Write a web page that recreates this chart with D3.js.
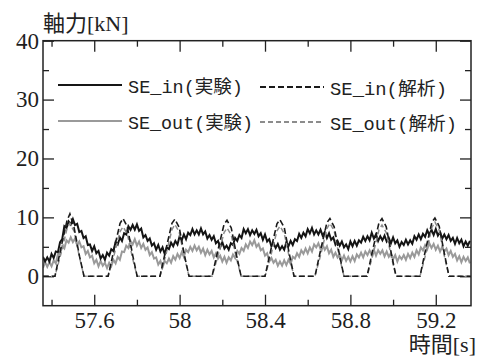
<!DOCTYPE html>
<html>
<head>
<meta charset="utf-8">
<script src="https://cdn.jsdelivr.net/npm/d3@7"></script>
<style>
  body { margin: 0; background: #fff; }
  #chart svg { display: block; }
  .axis line { stroke: #222; stroke-width: 1.3px; }
  .axis path { display: none; }
  .title { font-family: "Liberation Serif", "Noto Sans CJK JP", serif; font-size: 22px; fill: #222; }
  .legend text { font-family: "Liberation Mono", "Noto Sans CJK JP", monospace; font-size: 18.5px; fill: #222; }
</style>
</head>
<body>
<div id="chart"></div>
<script>
// sampled every 0.01 s from timeStart
const timeStart = 57.36;
const timeStep = 0.01;

const seInExp = [
  3.3, 2.5, 3.2, 2.5, 3.8, 3.1, 4.2, 4.1, 5.8, 6.3,
  8.5, 8.2, 9.3, 8.8, 9.7, 8.7, 8.9, 7.5, 7.7, 6.5,
  6.8, 5.3, 5.4, 4.3, 5.1, 3.9, 4.3, 3.0, 3.6, 2.8,
  4.0, 3.5, 4.6, 4.3, 5.8, 5.4, 6.6, 6.0, 7.3, 7.1,
  8.5, 7.9, 8.7, 7.9, 8.8, 7.7, 8.1, 6.6, 7.0, 6.0,
  6.4, 5.2, 5.6, 4.5, 5.3, 4.2, 4.9, 3.8, 4.9, 4.6,
  5.7, 5.1, 6.0, 5.4, 6.8, 6.1, 7.1, 6.3, 7.4, 7.0,
  8.0, 7.1, 7.8, 7.1, 8.1, 7.1, 7.6, 6.4, 7.0, 6.2,
  6.8, 5.6, 6.0, 4.9, 5.8, 4.7, 5.2, 4.5, 5.6, 5.3,
  6.5, 6.0, 7.0, 6.5, 8.0, 7.3, 8.0, 7.0, 7.8, 7.2,
  7.9, 6.8, 7.3, 6.2, 7.1, 5.9, 6.3, 5.1, 5.6, 4.8,
  5.5, 4.5, 5.1, 4.5, 5.8, 5.1, 6.0, 5.3, 6.3, 6.0,
  7.2, 6.5, 7.4, 6.8, 8.0, 7.3, 8.2, 7.1, 7.8, 7.1,
  7.9, 6.9, 7.5, 6.5, 7.3, 6.2, 6.6, 5.4, 6.0, 5.2,
  5.9, 4.9, 5.4, 4.6, 5.9, 5.1, 6.0, 5.2, 6.1, 5.7,
  6.7, 6.0, 6.8, 6.1, 7.4, 6.4, 7.1, 6.0, 6.8, 6.1,
  6.9, 5.9, 6.5, 5.6, 6.6, 5.6, 6.1, 5.0, 5.8, 5.3,
  6.2, 5.4, 6.1, 5.5, 6.8, 6.2, 7.1, 6.3, 7.2, 6.7,
  7.8, 7.0, 7.9, 7.0, 8.0, 6.9, 7.5, 6.4, 7.1, 6.3,
  7.0, 6.0, 6.5, 5.5, 6.5, 5.6, 6.2, 5.1, 5.9, 5.2,
  6.0
];

const seOutExp = [
  1.4, 2.4, 1.6, 2.4, 1.7, 2.7, 2.2, 3.8, 3.8, 5.1,
  4.7, 6.1, 5.7, 6.6, 5.8, 6.4, 5.3, 5.9, 4.9, 5.1,
  3.8, 4.3, 3.2, 3.5, 2.2, 2.8, 1.7, 2.6, 1.8, 2.3,
  1.4, 2.3, 1.7, 2.8, 2.2, 3.3, 2.8, 4.2, 4.1, 5.2,
  4.8, 6.0, 5.4, 6.3, 5.2, 5.9, 4.8, 5.5, 4.5, 4.9,
  3.6, 4.1, 3.0, 3.2, 2.0, 2.6, 1.5, 2.6, 2.2, 3.0,
  2.3, 3.4, 2.8, 3.8, 3.1, 4.1, 3.3, 4.5, 4.1, 5.0,
  4.3, 5.2, 4.4, 5.0, 4.0, 4.7, 3.6, 4.5, 3.7, 4.3,
  3.2, 3.9, 3.0, 3.5, 2.5, 3.3, 2.3, 3.2, 2.7, 3.7,
  3.1, 4.3, 3.8, 4.8, 4.3, 5.4, 4.8, 5.9, 5.3, 6.1,
  5.0, 5.5, 4.4, 4.7, 3.5, 3.9, 2.5, 3.1, 2.3, 2.8,
  1.8, 2.5, 1.8, 2.7, 1.9, 2.8, 2.1, 3.3, 3.0, 3.9,
  3.3, 4.4, 3.8, 4.7, 3.9, 4.9, 4.2, 5.4, 4.9, 5.6,
  4.6, 5.4, 4.5, 5.1, 3.9, 4.5, 3.3, 4.0, 3.2, 3.7,
  2.7, 3.5, 2.6, 3.3, 2.5, 3.4, 2.6, 3.7, 3.2, 4.0,
  3.2, 4.2, 3.6, 4.4, 3.6, 4.5, 3.5, 4.4, 3.8, 4.4,
  3.4, 4.2, 3.3, 3.9, 2.9, 3.6, 2.5, 3.4, 2.9, 3.6,
  2.8, 3.8, 3.1, 4.0, 3.3, 4.4, 3.7, 4.9, 4.4, 5.3,
  4.6, 5.6, 4.8, 5.5, 4.5, 5.2, 4.2, 5.0, 4.2, 4.7,
  3.6, 4.3, 3.3, 3.8, 2.7, 3.4, 2.4, 3.3, 2.6, 3.2,
  2.2
];

// analysis curves, knot times [s]
const anaTime = [
  57.36,
  57.416, 57.444, 57.472, 57.486, 57.506, 57.531, 57.552,
  57.665, 57.693, 57.721, 57.735, 57.755, 57.780, 57.801,
  57.908, 57.936, 57.964, 57.978, 57.998, 58.023, 58.044,
  58.152, 58.180, 58.208, 58.222, 58.242, 58.267, 58.288,
  58.400, 58.428, 58.456, 58.470, 58.490, 58.515, 58.536,
  58.634, 58.662, 58.690, 58.704, 58.724, 58.749, 58.770,
  58.878, 58.906, 58.934, 58.948, 58.968, 58.993, 59.014,
  59.126, 59.154, 59.182, 59.196, 59.216, 59.241, 59.262,
  59.365
];

const seInAna = [
  0,
  0, 4.8, 9.4, 10.6, 8.2, 3.4, 0,
  0, 4.6, 9.0, 9.8, 8.4, 3.6, 0,
  0, 4.6, 9.0, 9.7, 8.3, 3.5, 0,
  0, 4.5, 8.8, 9.5, 8.2, 3.5, 0,
  0, 4.6, 8.9, 9.6, 8.3, 3.6, 0,
  0, 4.7, 9.1, 9.8, 8.4, 3.6, 0,
  0, 4.7, 9.1, 9.8, 8.4, 3.6, 0,
  0, 4.8, 9.2, 9.9, 8.5, 3.7, 0,
  0
];

const seOutAna = [
  0,
  0, 3.8, 8.0, 9.0, 7.6, 3.2, 0,
  0, 3.6, 7.6, 8.4, 7.2, 3.0, 0,
  0, 3.7, 7.9, 8.8, 7.5, 3.1, 0,
  0, 3.5, 7.4, 8.2, 7.0, 2.9, 0,
  0, 3.6, 7.7, 8.5, 7.3, 3.0, 0,
  0, 3.8, 8.1, 9.0, 7.7, 3.2, 0,
  0, 3.7, 7.9, 8.7, 7.4, 3.1, 0,
  0, 3.9, 8.3, 9.2, 7.8, 3.3, 0,
  0
];

const yMajorTicks = [0, 10, 20, 30, 40];
const yMinorTicks = [5, 15, 25, 35];
const xMajorTicks = [57.6, 58, 58.4, 58.8, 59.2];
const xMinorTicks = [57.4, 57.8, 58.2, 58.6, 59.0];
const xTickLabels = ["57.6", "58", "58.4", "58.8", "59.2"];
const legendLabels = ["SE_in(実験)", "SE_in(解析)", "SE_out(実験)", "SE_out(解析)"];

const width = 490, height = 358;
const plotLeft = 43, plotRight = 471, plotTop = 40.7, plotBottom = 305.7;

const svg = d3.select("#chart")
  .append("svg")
  .attr("width", width)
  .attr("height", height);

const x = d3.scaleLinear().domain([57.36, 59.365]).range([plotLeft, plotRight]);
const y = d3.scaleLinear().domain([-5, 40]).range([plotBottom, plotTop]);

svg.append("clipPath").attr("id", "plotClip")
  .append("rect")
  .attr("x", plotLeft).attr("y", plotTop)
  .attr("width", plotRight - plotLeft).attr("height", plotBottom - plotTop);

// ticks, all pointing inward
const major = 11, minor = 6;

function styleLabels(g) {
  g.selectAll("text")
    .style("font-family", "'Liberation Serif', 'Times New Roman', serif")
    .style("font-size", "23px")
    .style("fill", "#1e1e1e");
}

svg.append("g").attr("class", "axis")
  .attr("transform", `translate(${plotLeft},0)`)
  .call(d3.axisLeft(y).tickValues(yMajorTicks).tickSize(-major).tickPadding(4))
  .call(styleLabels);
svg.append("g").attr("class", "axis")
  .attr("transform", `translate(${plotLeft},0)`)
  .call(d3.axisLeft(y).tickValues(yMinorTicks).tickSize(-minor).tickFormat(""));
svg.append("g").attr("class", "axis")
  .attr("transform", `translate(${plotRight},0)`)
  .call(d3.axisRight(y).tickValues(yMajorTicks).tickSize(-major).tickFormat(""));
svg.append("g").attr("class", "axis")
  .attr("transform", `translate(${plotRight},0)`)
  .call(d3.axisRight(y).tickValues(yMinorTicks).tickSize(-minor).tickFormat(""));

svg.append("g").attr("class", "axis")
  .attr("transform", `translate(0,${plotBottom})`)
  .call(d3.axisBottom(x).tickValues(xMajorTicks).tickSize(-major).tickPadding(6)
    .tickFormat((d, i) => xTickLabels[i]))
  .call(styleLabels);
svg.append("g").attr("class", "axis")
  .attr("transform", `translate(0,${plotBottom})`)
  .call(d3.axisBottom(x).tickValues(xMinorTicks).tickSize(-minor).tickFormat(""));
svg.append("g").attr("class", "axis")
  .attr("transform", `translate(0,${plotTop})`)
  .call(d3.axisTop(x).tickValues(xMajorTicks).tickSize(-major).tickFormat(""));
svg.append("g").attr("class", "axis")
  .attr("transform", `translate(0,${plotTop})`)
  .call(d3.axisTop(x).tickValues(xMinorTicks).tickSize(-minor).tickFormat(""));

// curves
const expLine = d3.line()
  .x((d, i) => x(timeStart + i * timeStep))
  .y(d => y(d));
const anaLine = d3.line()
  .x((d, i) => x(anaTime[i]))
  .y(d => y(d));

const plot = svg.append("g").attr("clip-path", "url(#plotClip)");

plot.append("path").datum(seOutExp)
  .attr("d", expLine).attr("fill", "none")
  .attr("stroke", "#9a9a9a").attr("stroke-width", 2);
plot.append("path").datum(seInExp)
  .attr("d", expLine).attr("fill", "none")
  .attr("stroke", "#141414").attr("stroke-width", 2);
plot.append("path").datum(seOutAna)
  .attr("d", anaLine).attr("fill", "none")
  .attr("stroke", "#8c8c8c").attr("stroke-width", 1.5)
  .attr("stroke-dasharray", "5,3");
plot.append("path").datum(seInAna)
  .attr("d", anaLine).attr("fill", "none")
  .attr("stroke", "#1a1a1a").attr("stroke-width", 1.6)
  .attr("stroke-dasharray", "6,3");

// frame
svg.append("rect")
  .attr("x", plotLeft).attr("y", plotTop)
  .attr("width", plotRight - plotLeft).attr("height", plotBottom - plotTop)
  .attr("fill", "none").attr("stroke", "#222").attr("stroke-width", 1.5);

// axis titles
svg.append("text").attr("class", "title")
  .attr("x", plotLeft).attr("y", 31)
  .text("軸力[kN]");
svg.append("text").attr("class", "title")
  .attr("x", 476).attr("y", 352)
  .attr("text-anchor", "end")
  .text("時間[s]");

// legend
const legendItems = [
  { label: legendLabels[0], color: "#161616", dash: null, x: 58, y: 85, w: 115 },
  { label: legendLabels[1], color: "#1a1a1a", dash: "6,3", x: 260, y: 87, w: 117 },
  { label: legendLabels[2], color: "#9a9a9a", dash: null, x: 58, y: 121, w: 125 },
  { label: legendLabels[3], color: "#8c8c8c", dash: "5,3", x: 260, y: 122, w: 127 }
];

const legend = svg.append("g").attr("class", "legend");
legend.selectAll("line")
  .data(legendItems)
  .enter()
  .append("line")
  .attr("x1", d => d.x).attr("x2", d => d.x + 64)
  .attr("y1", d => d.y).attr("y2", d => d.y)
  .attr("stroke", d => d.color)
  .attr("stroke-width", 1.8)
  .attr("stroke-dasharray", d => d.dash);
legend.selectAll("text")
  .data(legendItems)
  .enter()
  .append("text")
  .attr("x", d => d.x + 70)
  .attr("y", d => d.y + 8)
  .attr("textLength", d => d.w)
  .attr("lengthAdjust", "spacingAndGlyphs")
  .text(d => d.label);
</script>
</body>
</html>
